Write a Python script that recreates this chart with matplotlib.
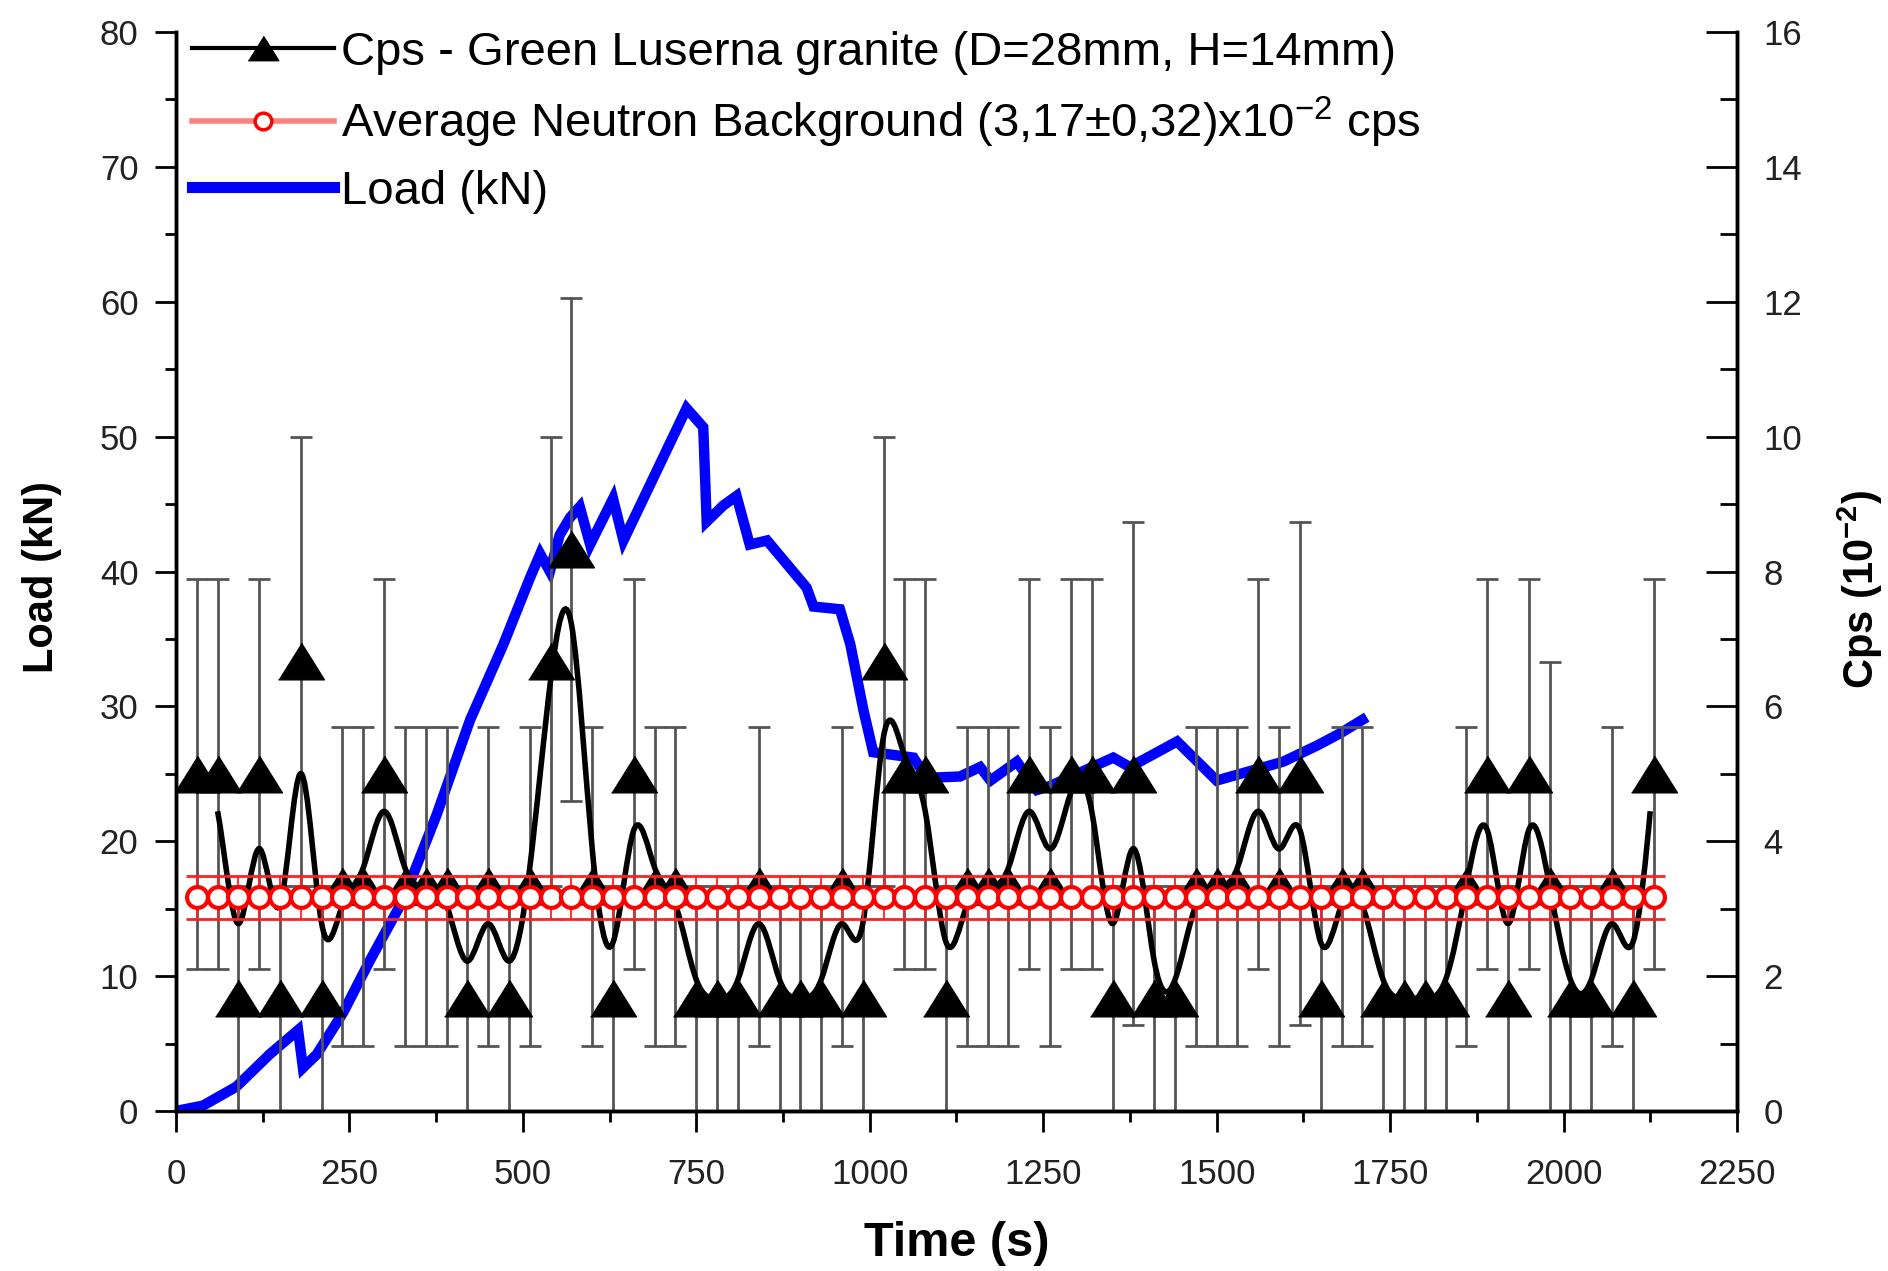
import numpy as np
import matplotlib
matplotlib.use('Agg')
import matplotlib.pyplot as plt
from matplotlib.path import Path
from matplotlib.patches import PathPatch
from matplotlib.lines import Line2D
from matplotlib.ticker import MultipleLocator

plt.rcParams['font.family'] = ['Liberation Sans Narrow', 'Liberation Sans', 'DejaVu Sans']
plt.rcParams['mathtext.fontset'] = 'custom'
plt.rcParams['mathtext.rm'] = 'Liberation Sans'
plt.rcParams['mathtext.bf'] = 'Liberation Sans:bold'

# neutron counts, 30 s steps, values in 10^-2 cps
cps_time = np.arange(30, 2131, 30)
cps_val = [5.00, 5.00, 1.67, 5.00, 1.67, 6.67, 1.67, 3.33, 3.33, 5.00,
           3.33, 3.33, 3.33, 1.67, 3.33, 1.67, 3.33, 6.67, 8.33, 3.33,
           1.67, 5.00, 3.33, 3.33, 1.67, 1.67, 1.67, 3.33, 1.67, 1.67,
           1.67, 3.33, 1.67, 6.67, 5.00, 5.00, 1.67, 3.33, 3.33, 3.33,
           5.00, 3.33, 5.00, 5.00, 1.67, 5.00, 1.67, 1.67, 3.33, 3.33,
           3.33, 5.00, 3.33, 5.00, 1.67, 3.33, 3.33, 1.67, 1.67, 1.67,
           1.67, 3.33, 5.00, 1.67, 5.00, 3.33, 1.67, 1.67, 3.33, 1.67,
           5.00]
cps_err = [2.89, 2.89, 1.67, 2.89, 1.67, 3.33, 1.67, 2.36, 2.36, 2.89,
           2.36, 2.36, 2.36, 1.67, 2.36, 1.67, 2.36, 3.33, 3.73, 2.36,
           1.67, 2.89, 2.36, 2.36, 1.67, 1.67, 1.67, 2.36, 1.67, 1.67,
           1.67, 2.36, 1.67, 3.33, 2.89, 2.89, 1.67, 2.36, 2.36, 2.36,
           2.89, 2.36, 2.89, 2.89, 1.67, 3.73, 1.67, 1.67, 2.36, 2.36,
           2.36, 2.89, 2.36, 3.73, 1.67, 2.36, 2.36, 1.67, 1.67, 1.67,
           1.67, 2.36, 2.89, 1.67, 2.89, 3.33, 1.67, 1.67, 2.36, 1.67,
           2.89]

bg_level = 3.17
bg_err = 0.32

load_time = [0, 39, 87, 135, 176, 183, 203, 241, 280, 328, 376, 424, 472, 510,
             525, 539, 553, 568, 582, 597, 630, 645, 736, 760, 765, 789, 808,
             827, 852, 909, 919, 957, 972, 991, 1005, 1063, 1082, 1130, 1159,
             1174, 1212, 1241, 1260, 1351, 1375, 1443, 1500, 1548, 1596, 1645,
             1678, 1710]
load_kn = [0, 0.4, 1.8, 4.2, 6.0, 3.2, 4.2, 7.3, 11.2, 15.7, 22.0, 29.0, 34.6,
           39.5, 41.3, 40.0, 42.7, 44.0, 44.8, 42.0, 45.4, 42.3, 52.1, 50.7,
           43.7, 44.9, 45.6, 42.0, 42.3, 38.8, 37.4, 37.2, 34.6, 29.7, 26.6,
           26.2, 24.7, 24.8, 25.5, 24.5, 25.9, 23.8, 24.1, 26.2, 25.5, 27.4,
           24.5, 25.2, 25.9, 27.1, 28.0, 29.0]

labels = ['Cps - Green Luserna granite (D=28mm, H=14mm)',
          'Average Neutron Background (3,17\u00b10,32)x10$^{-2}$ cps',
          'Load (kN)']


def bspline_path(xs, ys):
    # uniform cubic B-spline (as Origin draws it), written as bezier pieces
    pts = np.column_stack([xs, ys]).astype(float)
    pts = np.vstack([pts, pts[-1:]])
    verts = []
    codes = []
    for i in range(len(pts) - 3):
        p0, p1, p2, p3 = pts[i], pts[i + 1], pts[i + 2], pts[i + 3]
        b0 = (p0 + 4 * p1 + p2) / 6
        b1 = (2 * p1 + p2) / 3
        b2 = (p1 + 2 * p2) / 3
        b3 = (p1 + 4 * p2 + p3) / 6
        if i == 0:
            verts.append(b0)
            codes.append(Path.MOVETO)
        verts += [b1, b2, b3]
        codes += [Path.CURVE4] * 3
    return Path(verts, codes)


fig = plt.figure(figsize=(18.88, 12.71), dpi=100)
ax = fig.add_axes([0.0932, 0.1259, 0.8268, 0.8489])
ax2 = ax.twinx()

tri = [(-1, -0.8), (1, -0.8), (0, 0.8)]

ax.plot(load_time, load_kn, color='#0000ff', lw=7.5, solid_joinstyle='miter', zorder=3)

ax2.errorbar(cps_time, cps_val, yerr=cps_err, fmt='none', ecolor='#555555',
             elinewidth=2, capsize=8, capthick=2, zorder=2)
ax2.add_patch(PathPatch(bspline_path(cps_time, cps_val), fill=False,
                        edgecolor='black', lw=4, zorder=3))
ax2.plot(cps_time, cps_val, linestyle='none', marker=tri, ms=33, color='black', zorder=4)

bg_vals = [bg_level] * len(cps_time)
ax2.plot(cps_time, bg_vals, color='#ff7070', lw=1.5, zorder=5)
ax2.errorbar(cps_time, bg_vals, yerr=bg_err, fmt='none', ecolor='#ff2020',
             elinewidth=1.3, capsize=7.6, capthick=2, zorder=5)
ax2.plot(cps_time, bg_vals, linestyle='none', marker='o', ms=15, mfc='white',
         mec='#ff0000', mew=3, zorder=6)

ax.set_xlim(0, 2250)
ax.set_ylim(0, 80)
ax2.set_ylim(0, 16)

ax.xaxis.set_major_locator(MultipleLocator(250))
ax.xaxis.set_minor_locator(MultipleLocator(125))
ax.yaxis.set_major_locator(MultipleLocator(10))
ax.yaxis.set_minor_locator(MultipleLocator(5))
ax2.yaxis.set_major_locator(MultipleLocator(2))
ax2.yaxis.set_minor_locator(MultipleLocator(1))

for a in (ax, ax2):
    a.spines['top'].set_visible(False)
    for s in ('left', 'right', 'bottom'):
        a.spines[s].set_linewidth(2.5)

ax.tick_params(axis='both', which='major', direction='out', length=15, width=2,
               labelsize=25, labelcolor='#222222')
ax.tick_params(axis='both', which='minor', direction='out', length=8, width=2)
ax.tick_params(axis='y', pad=12)
ax.tick_params(axis='x', pad=19)
ax2.tick_params(axis='y', which='major', direction='in', length=22, width=2,
                labelsize=25, labelcolor='#222222', pad=19)
ax2.tick_params(axis='y', which='minor', direction='in', length=12, width=2)

fig.text(42 / 1888, 1 - 577 / 1271, 'Load (kN)', rotation=90, ha='center',
         va='center', fontsize=30, fontweight='bold', family='Liberation Sans')
fig.text(957 / 1888, 1 - 1244 / 1271, 'Time (s)', ha='center', va='center',
         fontsize=35, fontweight='bold', family='Liberation Sans')
fig.text(1860 / 1888, 1 - 590 / 1271, 'Cps (10$^{\\mathbf{-2}}$)', rotation=90,
         ha='center', va='center', fontsize=30, fontweight='bold',
         family='Liberation Sans')

handles = [
    Line2D([], [], color='black', lw=3, marker=tri, ms=22),
    Line2D([], [], color='#ff8080', lw=4, marker='o', ms=12, mfc='white',
           mec='#ff0000', mew=2.5),
    Line2D([], [], color='#0000ff', lw=8),
]
ax2.legend(handles, labels, loc='upper left', bbox_to_anchor=(192 / 1888, 1 - 31 / 1271),
           bbox_transform=fig.transFigure, frameon=False,
           prop={'family': 'Liberation Sans', 'size': 34},
           handlelength=3.0, handletextpad=0.15, labelspacing=0.42,
           borderaxespad=0, borderpad=0)

fig.savefig('out.png', dpi=100)
